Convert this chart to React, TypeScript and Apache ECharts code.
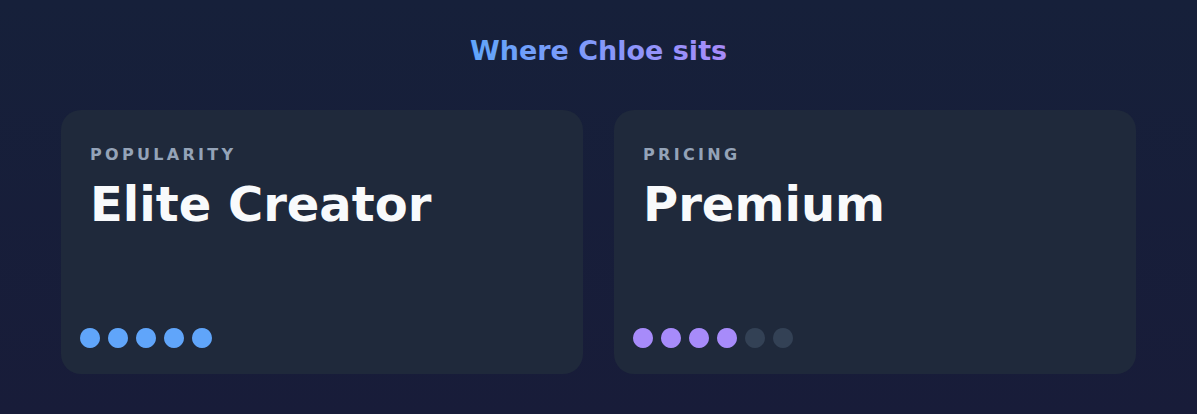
import * as echarts from "echarts";
import { useEffect, useRef } from "react";

const TITLE = "Where Chloe sits";
const categories = ["POPULARITY", "PRICING"];
const tierLabels = ["Elite Creator", "Premium"];
const levels = [5, 4];
const maxLevels = [5, 6];
const activeColors = ["#60a5fa", "#a78bfa"];

const WIDTH = 1197;
const HEIGHT = 414;
const FONT = "DejaVu Sans";
const CARD_W = 522;
const CARD_H = 264;
const CARD_TOP = 110;
const CARD_LEFTS = [61, 614];
const DOT_STEP = 28;
const DOT_CELLS = 18;
const OFF_COLOR = "#334155";
/** 小标题字距（zrender 文本不支持 letterSpacing，渲染后补到 svg 上）。 */
const LABEL_SPACING_PX = 3.3;
const TITLE_GRADIENT_ID = "title-gradient";
const SVG_NS = "http://www.w3.org/2000/svg";

function buildOption(): echarts.EChartsOption {
  const graphics: any[] = [
    {
      type: "rect",
      shape: { x: 0, y: 0, width: WIDTH, height: HEIGHT },
      style: {
        fill: new echarts.graphic.LinearGradient(0, 0, 0, 1, [
          { offset: 0, color: "#16203a" },
          { offset: 1, color: "#181c39" },
        ]),
      },
      z: -10,
    },
    {
      type: "text",
      x: WIDTH / 2,
      y: 50,
      style: {
        text: TITLE,
        font: `bold 27px "${FONT}"`,
        align: "center",
        verticalAlign: "middle",
        // 渐变在 svg 文本上不生效，渲染后改成 url(#title-gradient)，这里是兜底中间色
        fill: "#82a0f8",
      },
    },
  ];

  categories.forEach((cat, i) => {
    const left = CARD_LEFTS[i];
    graphics.push(
      {
        type: "rect",
        shape: { x: left, y: CARD_TOP, width: CARD_W, height: CARD_H, r: 20 },
        style: { fill: "#1f293b" },
        z: -5,
      },
      {
        type: "text",
        x: left + 29,
        y: 154,
        style: {
          text: cat,
          font: `bold 16px "${FONT}"`,
          fill: "#94a3b8",
          verticalAlign: "middle",
        },
      },
      {
        type: "text",
        x: left + 29,
        y: 204,
        style: {
          text: tierLabels[i],
          font: `bold 48px "${FONT}"`,
          fill: "#f8fafc",
          verticalAlign: "middle",
        },
      },
    );
  });

  const cells = Array.from({ length: DOT_CELLS }, (_, k) => String(k));

  return {
    animation: false,
    backgroundColor: "#171e39",
    graphic: graphics,
    grid: categories.map((_, i) => ({
      left: CARD_LEFTS[i] + 15,
      top: 328,
      width: DOT_STEP * DOT_CELLS,
      height: 20,
    })),
    xAxis: categories.map((_, i) => ({
      type: "category",
      gridIndex: i,
      data: cells,
      show: false,
    })),
    yAxis: categories.map((_, i) => ({
      type: "category",
      gridIndex: i,
      data: ["dots"],
      show: false,
    })),
    series: categories.map((cat, i) => ({
      type: "scatter",
      name: cat,
      xAxisIndex: i,
      yAxisIndex: i,
      symbolSize: 20,
      silent: true,
      data: Array.from({ length: maxLevels[i] }, (_, k) => ({
        value: [String(k), "dots"],
        itemStyle: {
          color: k < levels[i] ? activeColors[i] : OFF_COLOR,
          opacity: 1,
        },
      })),
    })),
  };
}

/** 渲染后补丁：小标题字距 + 标题横向渐变。 */
function patchSvg(el: HTMLDivElement) {
  const svg = el.querySelector("svg");
  if (!svg) {
    return;
  }
  if (!svg.querySelector(`#${TITLE_GRADIENT_ID}`)) {
    let defs = svg.querySelector("defs");
    if (!defs) {
      defs = document.createElementNS(SVG_NS, "defs");
      svg.insertBefore(defs, svg.firstChild);
    }
    const grad = document.createElementNS(SVG_NS, "linearGradient");
    grad.setAttribute("id", TITLE_GRADIENT_ID);
    grad.setAttribute("x1", "0");
    grad.setAttribute("y1", "0");
    grad.setAttribute("x2", "1");
    grad.setAttribute("y2", "0");
    [
      ["0", "#60a5fa"],
      ["1", "#a78bfa"],
    ].forEach(([offset, color]) => {
      const stop = document.createElementNS(SVG_NS, "stop");
      stop.setAttribute("offset", offset);
      stop.setAttribute("stop-color", color);
      grad.appendChild(stop);
    });
    defs.appendChild(grad);
  }
  svg.querySelectorAll("text").forEach((t) => {
    const content = t.textContent ?? "";
    if (categories.includes(content)) {
      t.setAttribute("letter-spacing", String(LABEL_SPACING_PX));
    } else if (content === TITLE) {
      t.setAttribute("fill", `url(#${TITLE_GRADIENT_ID})`);
    }
  });
}

export default function App() {
  const chartRef = useRef<HTMLDivElement | null>(null);

  useEffect(() => {
    document.body.style.margin = "0";
    const el = chartRef.current;
    if (!el) {
      return undefined;
    }
    const chart = echarts.init(el, undefined, { renderer: "svg" });
    chart.on("finished", () => patchSvg(el));
    chart.setOption(buildOption());
    patchSvg(el);
    return () => {
      chart.dispose();
    };
  }, []);

  return <div ref={chartRef} style={{ width: WIDTH, height: HEIGHT }} />;
}
